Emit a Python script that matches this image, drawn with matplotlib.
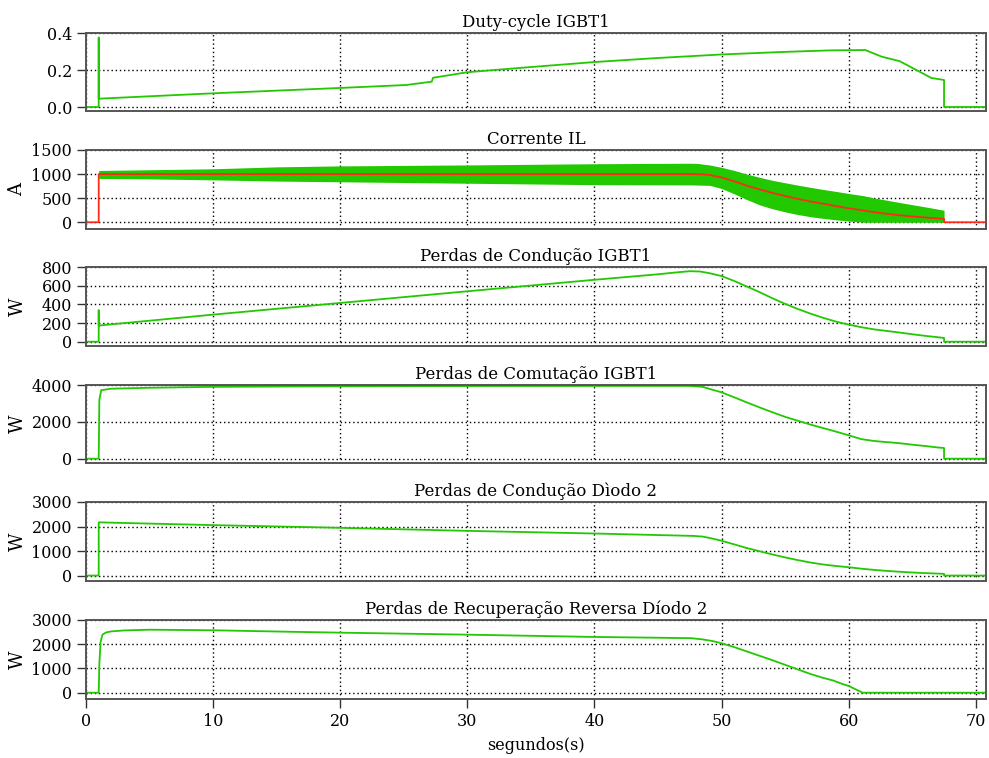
import matplotlib
matplotlib.use("Agg")
import matplotlib.pyplot as plt

# ---- time axis / ticks ----
x_ticks = [0, 10, 20, 30, 40, 50, 60, 70]

# ---- Duty-cycle IGBT1 ----
t_duty = [0, 1.0, 1.0, 1.0, 10, 20, 25.2, 27.2, 27.3, 30, 35, 40, 45, 50, 55,
          58.5, 61.3, 62.6, 64.0, 66.5, 67.5, 67.5, 70.8]
duty = [0, 0, 0.375, 0.045, 0.074, 0.103, 0.119, 0.137, 0.158, 0.188, 0.216,
        0.243, 0.265, 0.284, 0.298, 0.306, 0.308, 0.272, 0.248, 0.157, 0.146, 0, 0]

# ---- Corrente IL: reference (red) and ripple envelope (green) ----
t_iref = [0, 1, 1, 47.5, 48.5, 49.1, 50, 51, 52, 53, 54, 55, 56, 57, 58, 59, 60,
          61, 62, 63, 64, 65, 66, 67, 67.5, 67.5, 70.8]
i_ref = [0, 0, 1000, 1000, 995, 980, 930, 850, 760, 680, 610, 545, 485, 430, 385,
         335, 290, 250, 210, 175, 145, 120, 100, 80, 70, 0, 0]
t_env = [1, 5, 10, 15, 20, 30, 40, 47.5, 48.1, 49.1, 50, 51, 52, 53, 54, 55, 56,
         57, 58, 59, 60, 61.2, 62, 64, 66, 67.5]
i_upper = [1075, 1090, 1110, 1150, 1170, 1190, 1215, 1225, 1222, 1187, 1140, 1075,
           1000, 932, 870, 820, 770, 725, 680, 640, 597, 550, 505, 410, 320, 250]
i_lower = [910, 900, 880, 855, 840, 810, 780, 775, 772, 765, 700, 590, 470, 360,
           280, 215, 160, 115, 80, 50, 25, 0, 0, 0, 0, 0]

# ---- Perdas de Condução IGBT1 ----
t_pc_igbt = [0, 1, 1, 1, 10, 20, 30, 40, 45, 46.5, 47.5, 48.3, 49, 50, 51, 52, 53,
             54, 55, 56, 57, 58, 59, 60, 61, 62, 63, 64, 65, 66, 67, 67.5, 67.5, 70.8]
pc_igbt = [0, 0, 335, 173, 290, 415, 540, 663, 722, 743, 755, 752, 735, 703, 650,
           590, 530, 465, 405, 350, 300, 255, 215, 183, 155, 132, 115, 98, 80, 63,
           48, 40, 0, 0]

# ---- Perdas de Comutação IGBT1 ----
t_psw_igbt = [0, 1, 1.05, 1.2, 2, 5, 10, 20, 30, 40, 47.5, 48.5, 49, 50, 51, 52, 53,
              54, 55, 56, 57, 58, 59, 60, 61, 62, 63, 64, 65, 66, 67, 67.5, 67.5, 70.8]
psw_igbt = [0, 0, 3200, 3720, 3800, 3850, 3900, 3930, 3945, 3950, 3950, 3900, 3800,
            3600, 3330, 3050, 2780, 2520, 2270, 2060, 1850, 1660, 1470, 1270, 1060,
            960, 900, 840, 760, 690, 610, 580, 0, 0]

# ---- Perdas de Condução Díodo 2 ----
t_pc_diode = [0, 1, 1, 10, 20, 30, 40, 47.8, 48.5, 49, 50, 51, 52, 53, 54, 55, 56,
              57, 58, 59, 60, 61, 62, 63, 64, 65, 66, 67, 67.5, 67.5, 70.8]
pc_diode = [0, 0, 2170, 2057, 1947, 1823, 1715, 1617, 1590, 1540, 1420, 1270, 1120,
            990, 860, 740, 630, 530, 450, 390, 340, 280, 230, 190, 155, 125, 100, 80,
            70, 0, 0]

# ---- Perdas de Recuperação Reversa Díodo 2 ----
t_prr_diode = [0, 1, 1.05, 1.15, 1.3, 1.6, 2, 3, 5, 10, 16.8, 20, 30, 40, 44.4, 47.6,
               48.5, 49.3, 50, 51, 52, 53, 54, 55, 56, 57, 58, 58.8, 59.5, 60, 60.5,
               61.1, 70.8]
prr_diode = [0, 0, 1200, 2100, 2400, 2490, 2530, 2570, 2600, 2576, 2507, 2478, 2395,
             2300, 2272, 2250, 2200, 2130, 2040, 1880, 1700, 1520, 1340, 1150, 960,
             770, 610, 500, 360, 277, 150, 0, 0]

titles = ["Duty-cycle IGBT1", "Corrente IL", "Perdas de Condução IGBT1",
          "Perdas de Comutação IGBT1", "Perdas de Condução Dìodo 2",
          "Perdas de Recuperação Reversa Díodo 2"]
ylabels = ["", "A", "W", "W", "W", "W"]
y_ticks = [[0.0, 0.2, 0.4], [0, 500, 1000, 1500], [0, 200, 400, 600, 800],
           [0, 2000, 4000], [0, 1000, 2000, 3000], [0, 1000, 2000, 3000]]
y_ticklabels = [["0.0", "0.2", "0.4"], None, None, None, None, None]
y_limits = [(-0.0216, 0.4), (-140, 1500), (-46, 800), (-234, 4000),
            (-222, 3000), (-260, 3000)]

GREEN = "#22c800"
RED = "#ff2a1a"

plt.rcParams["font.family"] = ["DejaVu Serif"]
plt.rcParams["font.size"] = 11

W, H = 989, 758
fig = plt.figure(figsize=(W / 100, H / 100), dpi=100)

# panel boxes in pixels: (top, bottom)
boxes = [(33, 111), (150, 229), (267, 346), (385, 463), (502, 581), (620, 699)]
left_px, right_px = 86, 986

axes = []
for (top, bot) in boxes:
    ax = fig.add_axes([left_px / W, 1 - bot / H, (right_px - left_px) / W,
                       (bot - top) / H])
    axes.append(ax)

axes[0].plot(t_duty, duty, color=GREEN, lw=1.3)
axes[1].fill_between(t_env, i_lower, i_upper, color=GREEN, lw=0)
axes[1].plot(t_iref, i_ref, color=RED, lw=1.3)
axes[2].plot(t_pc_igbt, pc_igbt, color=GREEN, lw=1.3)
axes[3].plot(t_psw_igbt, psw_igbt, color=GREEN, lw=1.3)
axes[4].plot(t_pc_diode, pc_diode, color=GREEN, lw=1.3)
axes[5].plot(t_prr_diode, prr_diode, color=GREEN, lw=1.3)

for i, ax in enumerate(axes):
    ax.set_xlim(0, 70.8)
    ax.set_ylim(*y_limits[i])
    ax.set_xticks(x_ticks)
    ax.set_yticks(y_ticks[i])
    if y_ticklabels[i] is not None:
        ax.set_yticklabels(y_ticklabels[i])
    ax.grid(True, color="black", linestyle=(0, (1, 2)), lw=1.0)
    ax.set_axisbelow(True)
    ax.tick_params(direction="out", length=6.5, width=1.0, color="#333333",
                   labelsize=11.5, pad=3.5)
    ax.tick_params(top=False, right=False)
    for s in ax.spines.values():
        s.set_color("#555555")
        s.set_linewidth(1.4)
    ax.set_title(titles[i], fontsize=12, pad=4)
    if ylabels[i]:
        ax.set_ylabel(ylabels[i], fontsize=13)
        ax.yaxis.set_label_coords(-0.066, 0.5)
    if i < len(axes) - 1:
        ax.tick_params(axis="x", bottom=False, labelbottom=False)

axes[-1].set_xlabel("segundos(s)", fontsize=11.5, labelpad=5)

fig.savefig("out.png", dpi=100)
